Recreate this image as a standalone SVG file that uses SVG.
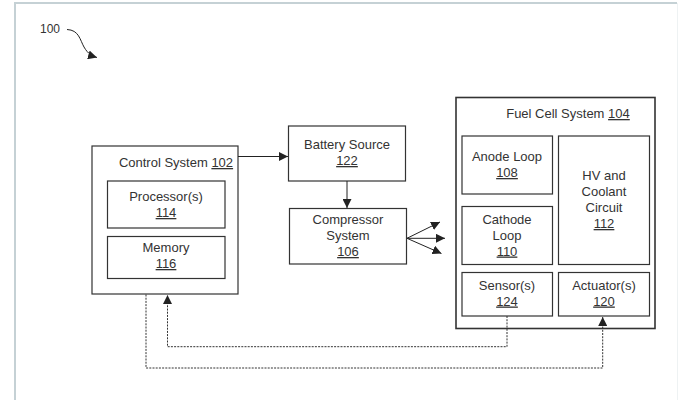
<svg xmlns="http://www.w3.org/2000/svg" width="678" height="400" viewBox="0 0 678 400">
<defs>
<marker id="ah" viewBox="0 0 10 10" refX="10" refY="5" markerWidth="9" markerHeight="9" markerUnits="userSpaceOnUse" orient="auto">
<path d="M0,0 L10,5 L0,10 z" fill="#222"/>
</marker>
<style>
.box{fill:#fff;stroke:#333;stroke-width:1.2}
.t{font-family:"Liberation Sans",Arial,sans-serif;font-size:13px;fill:#333;text-anchor:middle}
.u{text-decoration:underline}
.c{fill:none;stroke:#222;stroke-width:1}
.d{fill:none;stroke:#333;stroke-width:1;stroke-dasharray:2,1.2}
</style>
</defs>
<rect x="0" y="0" width="678" height="400" fill="#fff"/>
<path d="M15,410 V3 H677" fill="none" stroke="#c5d1d5" stroke-width="2"/>
<path d="M677.5,3 V400" fill="none" stroke="#eef2f3" stroke-width="1"/>

<g id="label100">
<text class="t" x="40" y="33" style="text-anchor:start;font-size:12px">100</text>
<path class="c" d="M67,29.5 C79,30 80,40 84,47 C88,54 92,56 97,57.5" marker-end="url(#ah)"/>
</g>

<g id="control102">
<rect class="box" x="92" y="146" width="146" height="148"/>
<text class="t" x="176" y="167">Control System <tspan class="u">102</tspan></text>
</g>
<g id="processor114">
<rect class="box" x="107.5" y="181" width="117.5" height="47"/>
<text class="t" x="166" y="201">Processor(s)</text>
<text class="t u" x="166" y="217">114</text>
</g>
<g id="memory116">
<rect class="box" x="107.5" y="236.5" width="117.5" height="42"/>
<text class="t" x="166" y="252">Memory</text>
<text class="t u" x="166" y="268">116</text>
</g>

<g id="battery122">
<rect class="box" x="288.5" y="126" width="117" height="55"/>
<text class="t" x="347" y="148.5">Battery Source</text>
<text class="t u" x="347" y="165">122</text>
</g>
<g id="compressor106">
<rect class="box" x="289.5" y="208.5" width="117" height="55.5"/>
<text class="t" x="348" y="223.5">Compressor</text>
<text class="t" x="348" y="239.5">System</text>
<text class="t u" x="348" y="256">106</text>
</g>

<g id="fuelcell104">
<rect class="box" x="456" y="97.5" width="199" height="231" style="stroke-width:1.6"/>
<text class="t" x="568" y="118">Fuel Cell System  <tspan class="u">104</tspan></text>
</g>
<g id="anode108">
<rect class="box" x="462" y="136" width="90.5" height="58"/>
<text class="t" x="507" y="161">Anode Loop</text>
<text class="t u" x="507" y="177">108</text>
</g>
<g id="cathode110">
<rect class="box" x="462" y="206.5" width="90.5" height="58"/>
<text class="t" x="507" y="223.5">Cathode</text>
<text class="t" x="507" y="239.5">Loop</text>
<text class="t u" x="507" y="255.5">110</text>
</g>
<g id="hv112">
<rect class="box" x="558.5" y="136" width="91" height="128.5"/>
<text class="t" x="604" y="180">HV and</text>
<text class="t" x="604" y="196">Coolant</text>
<text class="t" x="604" y="212">Circuit</text>
<text class="t u" x="604" y="228">112</text>
</g>
<g id="sensor124">
<rect class="box" x="462" y="272.5" width="90.5" height="43.5"/>
<text class="t" x="507" y="289.5">Sensor(s)</text>
<text class="t u" x="507" y="305.5">124</text>
</g>
<g id="actuator120">
<rect class="box" x="558.5" y="272.5" width="91" height="43.5"/>
<text class="t" x="604" y="289.5">Actuator(s)</text>
<text class="t u" x="604" y="305.5">120</text>
</g>

<g id="connectors">
<path class="c" d="M238,156.5 H288" marker-end="url(#ah)"/>
<path class="c" d="M347,181 V208" marker-end="url(#ah)"/>
<path class="c" d="M407,238.3 L440,222" marker-end="url(#ah)"/>
<path class="c" d="M407,238.3 L445,238.3" marker-end="url(#ah)"/>
<path class="c" d="M407,238.3 L441.5,253.5" marker-end="url(#ah)"/>
<path class="d" d="M507,316 V346.7 H167.5 V295" marker-end="url(#ah)"/>
<path class="d" d="M146,294.5 V368 H602.7 V317" marker-end="url(#ah)"/>
</g>
</svg>
